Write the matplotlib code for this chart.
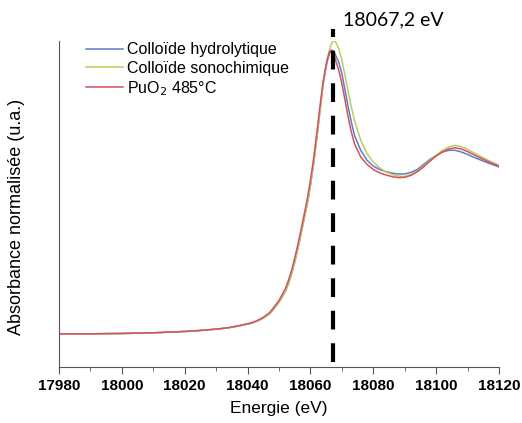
import matplotlib.pyplot as plt
from matplotlib.ticker import MultipleLocator

# energies (eV) and normalised absorbance
E = [17980, 17990, 18000, 18010, 18020, 18025, 18030, 18034, 18038, 18041,
     18043, 18045, 18047, 18048, 18049, 18050, 18051, 18052, 18053, 18054,
     18055, 18056, 18057, 18058, 18059, 18060, 18061, 18062, 18063, 18064,
     18065, 18065.5, 18066, 18066.5, 18067, 18067.5, 18068, 18069, 18070, 18071,
     18072, 18073, 18074, 18076, 18078, 18080, 18082, 18084, 18086, 18088,
     18090, 18092, 18094, 18096, 18098, 18100, 18102, 18104, 18106, 18108,
     18110, 18112, 18114, 18116, 18118, 18120]

hydro = [0.0, 0.0, 0.002, 0.006, 0.014, 0.02, 0.028, 0.036, 0.05, 0.062,
         0.075, 0.094, 0.12, 0.142, 0.165, 0.19, 0.22, 0.255, 0.30, 0.36,
         0.43, 0.51, 0.60, 0.69, 0.78, 0.89, 1.02, 1.17, 1.33, 1.49,
         1.60, 1.645, 1.675, 1.695, 1.70, 1.69, 1.67, 1.63, 1.56, 1.46,
         1.36, 1.27, 1.19, 1.10, 1.04, 1.005, 0.985, 0.972, 0.963, 0.958,
         0.958, 0.968, 0.985, 1.015, 1.045, 1.07, 1.09, 1.10, 1.10, 1.09,
         1.075, 1.058, 1.043, 1.028, 1.014, 1.0]

sono = [0.0, 0.0, 0.002, 0.006, 0.014, 0.02, 0.028, 0.036, 0.05, 0.062,
        0.075, 0.094, 0.12, 0.142, 0.165, 0.19, 0.22, 0.255, 0.30, 0.36,
        0.43, 0.51, 0.60, 0.69, 0.78, 0.89, 1.02, 1.17, 1.33, 1.49,
        1.61, 1.66, 1.70, 1.73, 1.75, 1.755, 1.75, 1.71, 1.64, 1.55,
        1.45, 1.36, 1.28, 1.16, 1.08, 1.03, 0.995, 0.97, 0.955, 0.945,
        0.943, 0.955, 0.975, 1.005, 1.04, 1.07, 1.10, 1.12, 1.13, 1.122,
        1.105, 1.085, 1.065, 1.045, 1.027, 1.01]

puo2 = [0.0, 0.0, 0.002, 0.006, 0.014, 0.02, 0.028, 0.037, 0.052, 0.065,
        0.079, 0.099, 0.127, 0.15, 0.175, 0.20, 0.235, 0.27, 0.32, 0.38,
        0.455, 0.535, 0.625, 0.715, 0.81, 0.92, 1.05, 1.20, 1.36, 1.51,
        1.615, 1.655, 1.685, 1.70, 1.695, 1.675, 1.64, 1.58, 1.50, 1.40,
        1.30, 1.21, 1.14, 1.06, 1.015, 0.985, 0.965, 0.952, 0.942, 0.936,
        0.938, 0.95, 0.972, 1.0, 1.035, 1.065, 1.09, 1.108, 1.115, 1.108,
        1.092, 1.073, 1.055, 1.037, 1.02, 1.005]

E_peak = 18067.2

plt.rcParams['font.family'] = ['Liberation Sans', 'DejaVu Sans']

fig = plt.figure(figsize=(5.22, 4.23), dpi=100)
ax = fig.add_axes([0.113, 0.132, 0.843, 0.771])

ax.plot(E, hydro, color='#5a7fc4', lw=1.1, label='Colloïde hydrolytique')
ax.plot(E, sono, color='#bccb5c', lw=1.1, label='Colloïde sonochimique')
ax.plot(E, puo2, color='#d65060', lw=1.1, label=r'PuO$_2$ 485°C')

ax.plot([E_peak, E_peak], [-0.17, 1.83], color='black', lw=3,
        dashes=(4.5, 3.3), clip_on=False)
ax.text(E_peak + 3.3, 1.88, '18067,2 eV', fontsize=14, family='Lato',
        va='center', ha='left')

ax.set_xlim(17980, 18120)
ax.set_ylim(-0.2, 1.755)
ax.xaxis.set_major_locator(MultipleLocator(20))
ax.xaxis.set_minor_locator(MultipleLocator(10))
ax.set_yticks([])
ax.spines['top'].set_visible(False)
ax.spines['right'].set_visible(False)
ax.spines['left'].set_color('#555555')
ax.spines['bottom'].set_color('#555555')
ax.tick_params(axis='x', which='major', direction='out', length=5,
               labelsize=11, color='#555555')
ax.tick_params(axis='x', which='minor', direction='out', length=3,
               color='#555555')
for lab in ax.get_xticklabels():
    lab.set_fontweight('bold')

ax.set_xlabel('Energie (eV)', fontsize=12.5, labelpad=6)
ax.set_ylabel('Absorbance normalisée (u.a.)', fontsize=13)
ax.yaxis.set_label_coords(-0.077, 0.46)

ax.legend(loc='upper left', bbox_to_anchor=(0.04, 1.025), frameon=False,
          fontsize=11.5, handlelength=2.3, handletextpad=0.25,
          labelspacing=0.2, borderaxespad=0.2)

fig.savefig('out.png', dpi=100)
